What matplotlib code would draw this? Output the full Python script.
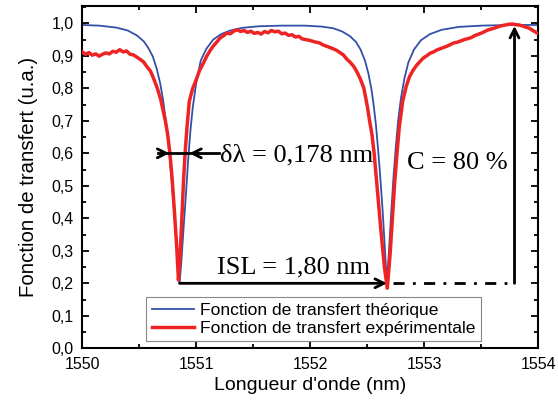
#!/usr/bin/env python3
"""
Fonction de transfert theorique vs experimentale (Fabry-Perot style dips).
"""

import matplotlib
matplotlib.use("Agg")
import matplotlib.pyplot as plt
from matplotlib.ticker import MultipleLocator, FuncFormatter

# Theoretical transfer function
wl_theo = [
    1550.00, 1550.15, 1550.30, 1550.40, 1550.48, 1550.54, 1550.58, 1550.62,
    1550.655, 1550.685, 1550.71, 1550.735, 1550.76, 1550.78, 1550.80, 1550.82,
    1550.84, 1550.855, 1550.87, 1550.89, 1550.91, 1550.93, 1550.95, 1550.97,
    1551.00, 1551.04, 1551.09, 1551.15, 1551.22, 1551.30, 1551.40, 1551.55,
    1551.75, 1551.95, 1552.10, 1552.20, 1552.28, 1552.35, 1552.40, 1552.44,
    1552.48, 1552.51, 1552.535, 1552.555, 1552.575, 1552.595, 1552.615,
    1552.635, 1552.655, 1552.672, 1552.69, 1552.71, 1552.73, 1552.75, 1552.77,
    1552.795, 1552.825, 1552.86, 1552.91, 1552.97, 1553.05, 1553.15, 1553.30,
    1553.50, 1553.75, 1554.00,
]
t_theo = [
    0.995, 0.993, 0.987, 0.978, 0.963, 0.945, 0.925, 0.898,
    0.860, 0.815, 0.765, 0.700, 0.620, 0.540, 0.450, 0.355,
    0.260, 0.200, 0.265, 0.370, 0.470, 0.580, 0.670, 0.740,
    0.815, 0.885, 0.922, 0.950, 0.967, 0.978, 0.986, 0.991,
    0.993, 0.993, 0.990, 0.985, 0.975, 0.960, 0.943, 0.920,
    0.885, 0.845, 0.800, 0.750, 0.690, 0.610, 0.520,
    0.420, 0.300, 0.200, 0.300, 0.420, 0.530, 0.620, 0.700,
    0.770, 0.830, 0.880, 0.920, 0.948, 0.967, 0.980, 0.989,
    0.993, 0.995, 0.995,
]

wl_exp = [
    1550.00, 1550.03, 1550.06, 1550.09, 1550.12, 1550.15, 1550.18, 1550.21,
    1550.24, 1550.27, 1550.30, 1550.33, 1550.36, 1550.39, 1550.42, 1550.45,
    1550.48, 1550.51, 1550.54, 1550.57, 1550.60, 1550.63, 1550.66, 1550.69,
    1550.71, 1550.73, 1550.75, 1550.77, 1550.79, 1550.81, 1550.83, 1550.845,
    1550.86, 1550.875, 1550.89, 1550.905, 1550.92, 1550.94, 1550.97, 1551.00,
    1551.03, 1551.06, 1551.09, 1551.12, 1551.15, 1551.18, 1551.21, 1551.24,
    1551.27, 1551.30, 1551.33, 1551.36, 1551.39, 1551.42, 1551.45, 1551.48,
    1551.51, 1551.54, 1551.57, 1551.60, 1551.63, 1551.66, 1551.69, 1551.72,
    1551.75, 1551.78, 1551.81, 1551.84, 1551.87, 1551.90, 1551.93, 1551.96,
    1551.99, 1552.02, 1552.05, 1552.08, 1552.11, 1552.14, 1552.17, 1552.20,
    1552.23, 1552.26, 1552.29, 1552.32, 1552.35, 1552.38, 1552.41, 1552.44,
    1552.47, 1552.50, 1552.52, 1552.54, 1552.56, 1552.59, 1552.62, 1552.65,
    1552.675, 1552.70, 1552.72, 1552.74, 1552.76, 1552.78, 1552.81, 1552.84,
    1552.87, 1552.90, 1552.93, 1552.96, 1552.99, 1553.02, 1553.05, 1553.08,
    1553.11, 1553.14, 1553.17, 1553.20, 1553.23, 1553.26, 1553.29, 1553.32,
    1553.35, 1553.38, 1553.41, 1553.44, 1553.47, 1553.50, 1553.53, 1553.56,
    1553.59, 1553.62, 1553.65, 1553.68, 1553.71, 1553.74, 1553.77, 1553.80,
    1553.83, 1553.86, 1553.89, 1553.92, 1553.95, 1553.98, 1554.00,
]
t_exp = [
    0.913, 0.905, 0.910, 0.902, 0.906, 0.899, 0.905, 0.909,
    0.906, 0.914, 0.911, 0.919, 0.912, 0.915, 0.905, 0.903,
    0.896, 0.889, 0.881, 0.866, 0.853, 0.828, 0.800, 0.765,
    0.733, 0.700, 0.660, 0.600, 0.520, 0.420, 0.310, 0.210,
    0.290, 0.400, 0.520, 0.610, 0.680, 0.760, 0.800, 0.826,
    0.855, 0.875, 0.897, 0.915, 0.930, 0.942, 0.955, 0.962,
    0.970, 0.968, 0.976, 0.980, 0.975, 0.978, 0.972, 0.976,
    0.969, 0.972, 0.967, 0.975, 0.971, 0.978, 0.974, 0.976,
    0.968, 0.970, 0.963, 0.965, 0.958, 0.960, 0.952, 0.950,
    0.948, 0.945, 0.942, 0.940, 0.934, 0.930, 0.926, 0.922,
    0.917, 0.910, 0.903, 0.890, 0.880, 0.868, 0.850, 0.828,
    0.800, 0.745, 0.700, 0.660, 0.600, 0.480, 0.360, 0.250,
    0.185, 0.290, 0.400, 0.510, 0.600, 0.680, 0.760, 0.805,
    0.836, 0.855, 0.870, 0.882, 0.893, 0.900, 0.908, 0.912,
    0.918, 0.922, 0.926, 0.930, 0.935, 0.940, 0.942, 0.946,
    0.950, 0.953, 0.956, 0.962, 0.966, 0.970, 0.975, 0.980,
    0.983, 0.986, 0.990, 0.993, 0.995, 0.997, 0.998, 0.996,
    0.995, 0.992, 0.988, 0.985, 0.978, 0.972, 0.968,
]

series_labels = ["Fonction de transfert théorique",
                 "Fonction de transfert expérimentale"]

# Annotation anchors (nm / u.a.)
dip1 = 1550.855
dip2 = 1552.672
c_arrow_x = 1553.79

BLUE = "#3350a8"
RED = "#ee2424"
SERIF = "Liberation Serif"
SANS = "Liberation Sans"


def comma(v, _pos):
    return f"{v:.1f}".replace(".", ",")


def main():
    fig = plt.figure(figsize=(5.58, 4.08), dpi=100)
    ax = fig.add_axes([0.147, 0.1463, 0.818, 0.8387])

    ax.plot(wl_theo, t_theo, color=BLUE, lw=1.3, label=series_labels[0], zorder=2)
    ax.plot(wl_exp, t_exp, color=RED, lw=2.5, label=series_labels[1], zorder=3)

    ax.set_xlim(1550, 1554)
    ax.set_ylim(0, 1.053)
    ax.xaxis.set_major_locator(MultipleLocator(1))
    ax.xaxis.set_minor_locator(MultipleLocator(0.5))
    ax.yaxis.set_major_locator(MultipleLocator(0.1))
    ax.yaxis.set_minor_locator(MultipleLocator(0.05))
    ax.yaxis.set_major_formatter(FuncFormatter(comma))
    ax.tick_params(which="both", direction="in", top=True, right=True, width=1.3)
    ax.tick_params(which="major", length=5, labelsize=11.5)
    ax.tick_params(which="minor", length=3)
    ax.tick_params(axis="x", which="major", pad=6)
    ax.tick_params(axis="y", which="major", pad=6)
    for lab in ax.get_xticklabels() + ax.get_yticklabels():
        lab.set_family(SANS)
    for sp in ax.spines.values():
        sp.set_linewidth(1.5)

    ax.set_xlabel("Longueur d'onde (nm)", fontsize=14, family=SANS, labelpad=4)
    ax.set_ylabel("Fonction de transfert (u.a.)", fontsize=14.7, family=SANS,
                  labelpad=10)

    arrow = dict(arrowstyle="->", lw=2, color="black", mutation_scale=16,
                 shrinkA=0, shrinkB=0)

    # delta lambda (FWHM): one line across the dip, heads pointing inward
    ax.plot([1550.67, 1551.20], [0.6, 0.6], color="black", lw=2, zorder=4)
    ax.annotate("", xy=(1550.765, 0.6), xytext=(1550.70, 0.6), arrowprops=arrow,
                zorder=5)
    ax.annotate("", xy=(1550.94, 0.6), xytext=(1551.02, 0.6), arrowprops=arrow,
                zorder=5)
    ax.text(1551.21, 0.595, "δλ = 0,178 nm", fontsize=19, family=SERIF,
            va="center", ha="left")

    # free spectral range
    ax.annotate("", xy=(dip2, 0.2), xytext=(dip1, 0.2), arrowprops=arrow)
    ax.text(1551.85, 0.25, "ISL = 1,80 nm", fontsize=19, family=SERIF,
            va="center", ha="center")
    ax.plot([dip2 + 0.05, c_arrow_x], [0.2, 0.2], color="black", lw=2,
            ls=(0, (4, 3, 1, 3)))

    # contrast
    ax.annotate("", xy=(c_arrow_x, 0.992), xytext=(c_arrow_x, 0.2), arrowprops=arrow)
    ax.text(1553.29, 0.57, "C = 80 %", fontsize=19, family=SERIF,
            va="center", ha="center")

    leg = ax.legend(loc="lower left", bbox_to_anchor=(0.141, 0.021),
                    borderaxespad=0, fancybox=False, framealpha=1,
                    edgecolor="#888888", prop={"family": SANS, "size": 12.6},
                    handlelength=2.4, handletextpad=0.35, borderpad=0.3,
                    labelspacing=0.15)
    leg.get_frame().set_linewidth(0.8)

    fig.savefig("out.png", dpi=100)
    plt.close(fig)


if __name__ == "__main__":
    main()
